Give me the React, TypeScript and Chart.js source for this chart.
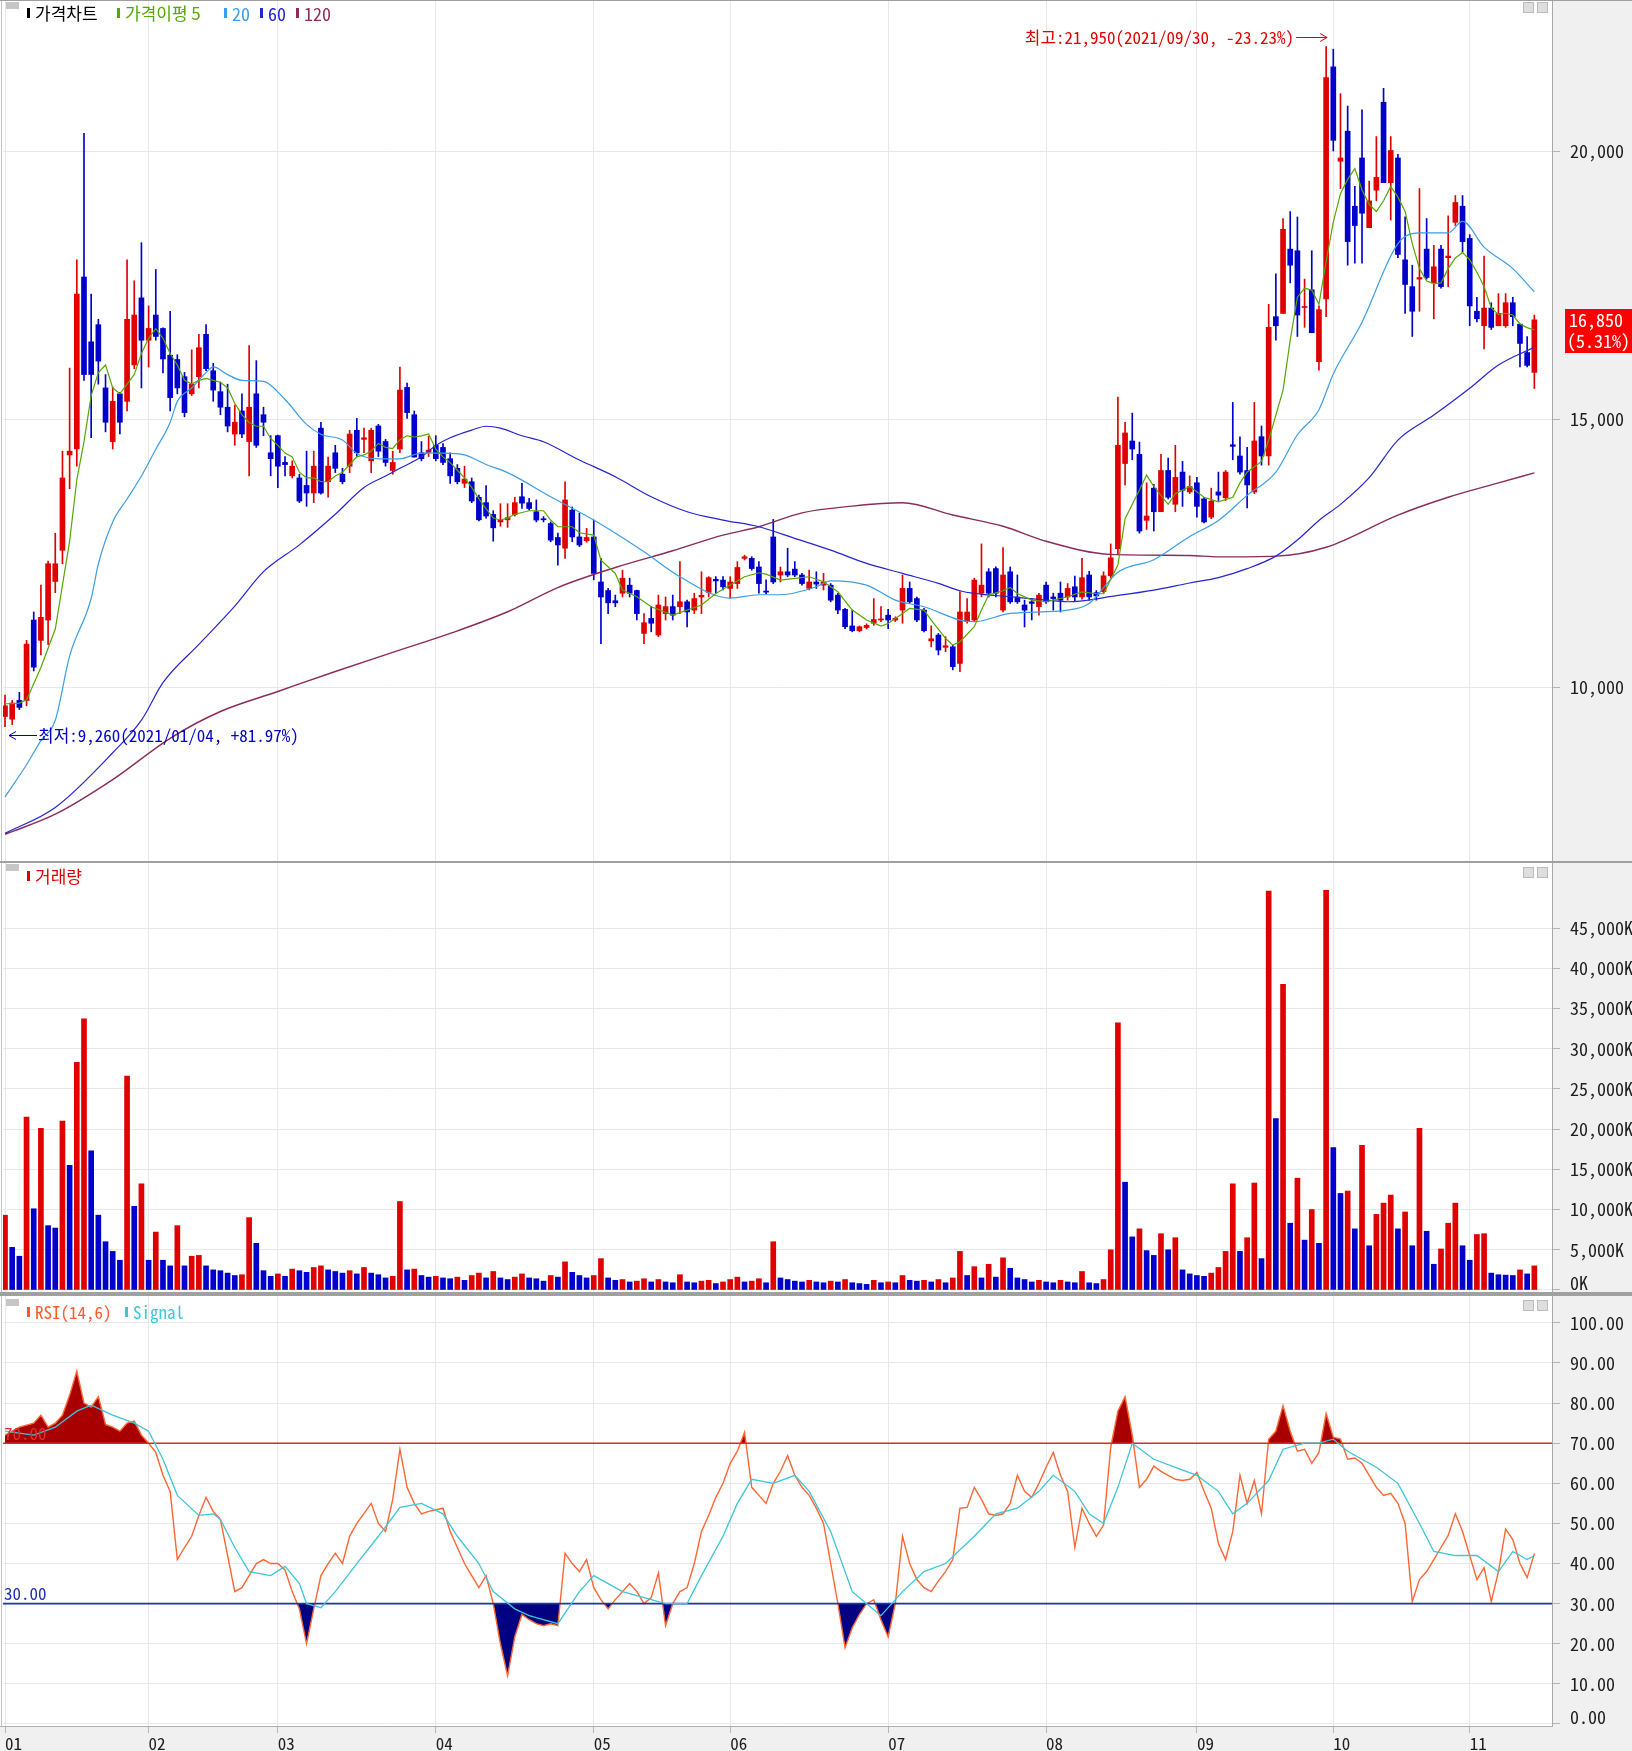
import React, { useEffect, useRef } from 'react';
import { Chart, registerables } from 'chart.js';

Chart.register(...registerables);

// ---------------- data ----------------
const monthStarts = [0, 20, 38, 60, 82, 101, 123, 145, 166, 185, 204];
const monthLabels = ['01', '02', '03', '04', '05', '06', '07', '08', '09', '10', '11'];

const opens = [
  9450, 9400, 9750, 9750, 11250, 10870, 11250, 11970, 12550, 14330,
  14440, 17650, 16440, 16760, 15580, 14580, 15470, 15330, 16010, 17260,
  16470, 16940, 16690, 16190, 16110, 15790, 15470, 15790, 16580, 15900,
  15510, 15220, 14720, 15150, 14580, 15470, 15080, 14370, 14690, 14190,
  13940, 13900, 13760, 13620, 14830, 13830, 14370, 13970, 14120, 14790,
  14620, 14220, 14870, 14580, 14040, 14440, 15590, 15080, 14370, 14380,
  14510, 14470, 14260, 14080, 13800, 13830, 13540, 13440, 13220, 13080,
  13120, 13220, 13550, 13440, 13270, 13140, 13050, 12790, 12590, 13300,
  12800, 12730, 12800, 11960, 11800, 11610, 11750, 11900, 11800, 11000,
  11280, 10970, 11370, 11500, 11500, 11590, 11435, 11680, 11765, 12010,
  11995, 11840, 11930, 12400, 12400, 12240, 11790, 12800, 12090, 12150,
  12200, 12090, 11840, 11960, 11900, 11900, 11715, 11450, 11140, 11050,
  11110, 11190, 11250, 11340, 11250, 11435, 11840, 11650, 11435, 10860,
  10970, 10740, 10750, 10440, 11220, 11250, 11750, 12150, 12210, 11435,
  12150, 11680, 11530, 11590, 11500, 11900, 11680, 11750, 11680, 11870,
  11680, 12090, 11760, 11780, 12075, 12580, 14170, 14590, 14340, 13110,
  13710, 13270, 14040, 13410, 14010, 13640, 13810, 13510, 13170, 13640,
  13530, 14520, 14310, 14040, 13640, 14670, 14310, 16910, 16970, 18170,
  18140, 17080, 17410, 16070, 17240, 21570, 19810, 20370, 18970, 19870,
  18570, 19270, 20910, 19410, 19870, 17970, 17470, 17610, 18170, 17540,
  18170, 18010, 18670, 18970, 18370, 17010, 16740, 17070, 16740, 16740,
  17170, 16770, 16240, 15870,
];
const highs = [
  9850, 9750, 9900, 10870, 11400, 11900, 12350, 12870, 14400, 15950,
  17970, 20330, 17330, 16860, 15830, 15600, 15500, 17970, 17580, 18290,
  17110, 17790, 16700, 17010, 16200, 15870, 16290, 16580, 16760, 16040,
  15690, 15650, 15260, 15470, 16370, 16090, 15220, 14690, 14700, 14300,
  14220, 13970, 14400, 14400, 14940, 14290, 14510, 14080, 14790, 15010,
  14830, 14830, 14900, 14620, 14400, 15970, 15670, 15150, 14580, 14680,
  14690, 14540, 14370, 14150, 14120, 13900, 13580, 13760, 13290, 13420,
  13420, 13540, 13800, 13520, 13490, 13180, 13080, 12870, 13830, 13360,
  13240, 12960, 13115, 12400, 11840, 11715, 12180, 12030, 11810, 11370,
  11500, 11715, 11680, 11715, 12340, 11620, 11750, 12150, 12060, 12060,
  12060, 12060, 12340, 12460, 12430, 12340, 12000, 13127, 12240, 12590,
  12340, 12120, 12180, 12150, 12120, 11930, 11750, 11470, 11435, 11140,
  11180, 11650, 11500, 11450, 11310, 12090, 11960, 11680, 11470, 11140,
  11000, 10940, 10780, 11780, 11650, 12030, 12670, 12210, 12240, 12600,
  12240, 12090, 11620, 11650, 11750, 11960, 11750, 11960, 11930, 12070,
  12400, 12160, 11800, 12150, 12670, 15410, 14940, 15110, 14570, 13810,
  13780, 14340, 14270, 14510, 14210, 13940, 13910, 13540, 13710, 14010,
  14040, 15310, 14670, 14470, 15310, 14870, 17140, 17710, 18740, 18870,
  18770, 17610, 18140, 17110, 21950, 21900, 21070, 20840, 19340, 20770,
  19440, 20270, 21170, 20270, 19940, 18770, 17870, 19300, 18740, 18240,
  18240, 18790, 19170, 19170, 18440, 17270, 18040, 17170, 17340, 17340,
  17270, 16770, 16540, 16940,
];
const lows = [
  9260, 9300, 9580, 9650, 10300, 10600, 10790, 11760, 12300, 13700,
  14120, 15720, 14650, 15650, 14760, 14440, 14720, 15150, 15940, 15580,
  15970, 16470, 15860, 15150, 15470, 15040, 15440, 15580, 15900, 15330,
  15080, 14760, 14510, 14650, 13940, 14470, 14690, 13940, 13720, 13940,
  13900, 13440, 13370, 13440, 13600, 13540, 14000, 13790, 14000, 14300,
  14370, 14000, 14300, 14120, 13970, 14370, 15010, 14290, 14220, 14300,
  14220, 14150, 13800, 13790, 13720, 13440, 13100, 13150, 12720, 13000,
  12980, 13190, 13330, 13300, 13080, 13080, 12710, 12275, 12400, 12710,
  12620, 12700, 12000, 10810, 11370, 11500, 11680, 11680, 11250, 10810,
  11030, 10940, 11250, 11250, 11370, 11120, 11370, 11370, 11680, 11750,
  11810, 11650, 11840, 12370, 12180, 11750, 11740, 11930, 11960, 12060,
  12060, 11900, 11810, 11840, 11810, 11590, 11370, 11090, 11030, 11030,
  11080, 11150, 11220, 11090, 11220, 11190, 11560, 11220, 11030, 10750,
  10600, 10660, 10320, 10285, 11190, 11220, 11680, 11680, 11680, 11400,
  11560, 11560, 11120, 11250, 11340, 11560, 11435, 11400, 11620, 11600,
  11640, 11620, 11620, 11750, 12040, 12480, 13770, 14240, 12870, 12940,
  12910, 13270, 13510, 13270, 13370, 13610, 13170, 13060, 13140, 13480,
  13480, 14240, 13970, 13340, 13610, 14140, 14140, 16470, 16970, 17540,
  16540, 16710, 16610, 15910, 16910, 20000, 19300, 17870, 17910, 17910,
  18570, 19070, 19410, 18710, 18010, 16970, 16540, 17010, 17610, 16870,
  17440, 17470, 18610, 18110, 16740, 16810, 16310, 16670, 16740, 16710,
  16740, 15970, 15970, 15570,
];
const closes = [
  9650, 9700, 9620, 10800, 10370, 11300, 12300, 12300, 13900, 14400,
  17330, 15830, 15830, 16080, 14940, 15330, 14940, 16860, 16940, 16470,
  16690, 16540, 16120, 15400, 15580, 15120, 15650, 16330, 15940, 15540,
  15220, 14870, 14940, 14720, 15220, 14510, 14940, 14260, 14120, 14150,
  14120, 13470, 13620, 14120, 13620, 14120, 14080, 13830, 14720, 14370,
  14650, 14790, 14400, 14190, 14190, 15540, 15120, 14290, 14260, 14420,
  14260, 14190, 13940, 13830, 13880, 13470, 13120, 13190, 12970, 13120,
  13160, 13440, 13430, 13330, 13115, 13120, 12740, 12650, 13490, 12800,
  12650, 12790, 12120, 11680, 11570, 11570, 12030, 11750, 11370, 11200,
  11190, 11530, 11500, 11340, 11590, 11400, 11650, 11710, 12040, 11980,
  11870, 11960, 12230, 12430, 12210, 11930, 11770, 11960, 12150, 12090,
  12090, 11930, 11960, 11920, 11960, 11620, 11435, 11125, 11050, 11125,
  11150, 11260, 11270, 11250, 11280, 11840, 11590, 11250, 11050, 10900,
  10690, 10770, 10380, 11400, 11400, 11995, 11900, 11750, 11750, 12090,
  11590, 11590, 11435, 11560, 11715, 11590, 11650, 11620, 11840, 11680,
  12040, 11680, 11700, 12075, 12410, 14510, 14740, 14440, 12910, 13190,
  13270, 14040, 13540, 13910, 13670, 13740, 13370, 13080, 13470, 13580,
  14010, 14490, 14010, 13770, 14590, 14310, 16710, 16740, 18540, 17870,
  16940, 17100, 16610, 17040, 21370, 20200, 19870, 18310, 18610, 18840,
  19070, 19510, 19410, 20010, 18070, 17510, 17010, 17640, 17640, 17840,
  17470, 18040, 19040, 18310, 17110, 16870, 17070, 16710, 16970, 17170,
  16910, 16410, 16000, 16850,
];
// volume, thousands of shares
const volumes = [
  9300, 5300, 4200, 21500, 10100, 20100, 8000, 7700, 21000, 15500,
  28300, 33700, 17300, 9300, 6000, 4800, 3700, 26600, 10400, 13200,
  3700, 7200, 3700, 3000, 8000, 3000, 4200, 4300, 3000, 2500,
  2400, 2100, 1800, 1900, 9000, 5800, 2400, 1700, 2000, 1700,
  2600, 2400, 2200, 2800, 3000, 2500, 2300, 2100, 2400, 2000,
  2800, 2100, 1900, 1500, 1700, 11000, 2500, 2600, 1800, 1600,
  1700, 1500, 1400, 1600, 1200, 1800, 2100, 1500, 2300, 1500,
  1300, 1600, 2000, 1500, 1400, 1100, 1800, 1600, 3500, 2200,
  1800, 1500, 1800, 3900, 1500, 1200, 1300, 1000, 1100, 1400,
  1000, 1300, 1000, 900, 1900, 1000, 900, 1100, 1200, 800,
  1000, 1300, 1600, 1000, 1100, 1400, 900, 6000, 1500, 1300,
  1100, 1000, 1200, 1000, 900, 1100, 1000, 1300, 900, 800,
  700, 1200, 900, 1000, 900, 1800, 1200, 1100, 1200, 1000,
  1300, 900, 1500, 4800, 1800, 2900, 1500, 3200, 1600, 4000,
  2700, 1500, 1300, 1000, 1200, 1000, 900, 1200, 1000, 900,
  2300, 900, 800, 1300, 5000, 33200, 13400, 6600, 7600, 4900,
  4300, 7000, 5000, 6500, 2500, 2000, 1800, 1700, 2100, 2800,
  4800, 13200, 4800, 6500, 13300, 3900, 49600, 21300, 38000, 8300,
  13900, 6200, 10000, 5800, 49700, 17700, 12000, 12300, 7600, 18000,
  5500, 9400, 10800, 11800, 7600, 9700, 5500, 20100, 7300, 3200,
  5100, 8300, 10800, 5500, 3700, 6900, 7000, 2100, 1900, 1850,
  1800, 2500, 2000, 3000,
];

// moving averages: [trading-day index, value]
const ma5 = [
  [0, 9688], [1, 9690], [2, 9700], [3, 9760], [5, 10366], [7, 11081], [9, 12723], [10, 13866], [11, 14580], [12, 15437],
  [13, 15865], [14, 16008], [15, 15579], [16, 15472], [17, 15651], [18, 15829], [19, 16222], [20, 16507], [21, 16686], [22, 16507],
  [23, 16222], [24, 16008], [25, 15722], [26, 15651], [27, 15722], [28, 15757], [29, 15722], [30, 15686], [31, 15579], [32, 15294],
  [33, 15079], [34, 14936], [35, 14865], [36, 14865], [37, 14637], [38, 14508], [39, 14365], [40, 14294], [41, 14008], [42, 13901],
  [43, 13901], [44, 13830], [45, 13830], [46, 13937], [47, 14008], [48, 14151], [49, 14294], [50, 14330], [51, 14401], [52, 14544],
  [53, 14472], [54, 14450], [55, 14615], [56, 14687], [57, 14665], [58, 14687], [59, 14722], [60, 14437], [61, 14294], [62, 14187],
  [63, 14044], [64, 13901], [65, 13723], [66, 13509], [67, 13330], [68, 13152], [69, 13116], [70, 13152], [71, 13223], [73, 13289],
  [75, 13289], [76, 13115], [77, 12990], [79, 12990], [80, 12878], [82, 12835], [83, 12368], [85, 12119], [86, 11809], [88, 11684],
  [90, 11498], [93, 11342], [95, 11435], [97, 11529], [99, 11746], [101, 11902], [103, 12057], [105, 12132], [106, 12107], [108, 11995],
  [110, 12026], [112, 12057], [114, 11964], [116, 11777], [118, 11435], [120, 11249], [122, 11137], [123, 11186], [125, 11373], [126, 11467],
  [128, 11435], [129, 11249], [131, 10907], [132, 10782], [133, 10844], [135, 11124], [136, 11435], [137, 11715], [139, 11796], [140, 11858],
  [141, 11746], [143, 11622], [145, 11591], [148, 11684], [150, 11775], [152, 11740], [153, 11740], [155, 12275], [156, 13142], [158, 13674],
  [159, 13954], [160, 13741], [162, 13408], [163, 13608], [165, 13741], [167, 13541], [169, 13455], [171, 13541], [172, 13808], [173, 14008],
  [175, 14208], [176, 14607], [178, 15540], [179, 16473], [180, 17273], [181, 17439], [182, 17406], [183, 17140], [184, 17939], [185, 18672],
  [186, 19205], [187, 19472], [188, 19672], [189, 19272], [190, 19005], [191, 18872], [192, 19072], [193, 19339], [194, 19139], [195, 18872],
  [196, 18272], [197, 17806], [198, 17573], [199, 17526], [200, 17540], [201, 17806], [202, 18006], [203, 18106], [204, 17973], [205, 17739],
  [206, 17473], [207, 17073], [208, 16953], [209, 16973], [210, 16940], [211, 16773], [212, 16706], [213, 16660],
];
const ma20 = [
  [0, 7950], [3, 8550], [5, 9000], [7, 9380], [9, 10580], [12, 11652], [13, 12295], [15, 13080], [17, 13508], [19, 13937],
  [21, 14437], [23, 14937], [24, 15329], [26, 15579], [28, 15865], [29, 15972], [31, 15829], [33, 15722], [36, 15701], [39, 15365],
  [42, 14901], [44, 14715], [47, 14608], [49, 14358], [52, 14258], [55, 14258], [58, 14365], [61, 14365], [64, 14330], [67, 14151],
  [70, 14000], [76, 13550], [82, 13115], [89, 12523], [94, 12057], [101, 11659], [105, 11721], [108, 11721], [113, 11871], [115, 11982],
  [120, 11902], [124, 11622], [128, 11498], [133, 11249], [135, 11218], [140, 11373], [148, 11435], [151, 11560], [155, 12142], [160, 12375],
  [165, 12808], [169, 13108], [173, 13575], [177, 14008], [180, 14707], [183, 15174], [185, 15840], [189, 16807], [194, 18272], [197, 18472],
  [201, 18472], [203, 18686], [206, 18206], [210, 17806], [213, 17373],
];
const ma60 = [
  [0, 7270], [7, 7752], [15, 8773], [19, 9381], [22, 10081], [27, 10795], [32, 11509], [36, 12152], [41, 12652], [46, 13223],
  [50, 13723], [53, 13937], [55, 14080], [58, 14294], [60, 14508], [62, 14651], [65, 14794], [67, 14865], [69, 14830], [72, 14687],
  [75, 14576], [80, 14234], [85, 13923], [90, 13550], [95, 13270], [100, 13115], [105, 12990], [110, 12773], [115, 12555], [120, 12306],
  [125, 12119], [130, 11933], [133, 11796], [135, 11746], [140, 11684], [145, 11622], [148, 11591], [155, 11708], [160, 11808], [165, 11941],
  [169, 12041], [173, 12208], [177, 12442], [180, 12742], [183, 13108], [186, 13408], [190, 13908], [194, 14607], [199, 15074], [204, 15574],
  [208, 16007], [213, 16340],
];
const ma120 = [
  [0, 7252], [7, 7627], [15, 8273], [23, 9043], [30, 9543], [38, 9917], [46, 10290], [54, 10646], [62, 11000], [70, 11404],
  [77, 11856], [85, 12230], [93, 12543], [100, 12834], [105, 12990], [111, 13250], [118, 13375], [125, 13437], [132, 13209], [139, 13000],
  [145, 12720], [154, 12475], [165, 12455], [169, 12428], [177, 12442], [184, 12608], [194, 13208], [201, 13541], [208, 13808], [213, 13995],
];
const rsi = [
  [0, 72], [2, 74], [4, 75], [5, 77], [6, 74], [7, 75], [8, 77], [9, 82], [10, 88], [11, 80],
  [12, 79], [13, 81.6], [14, 74.7], [15, 74], [16, 73], [17, 75], [18, 75.5], [19, 72], [20, 70], [21, 67.7],
  [22, 62], [23, 58], [24, 41], [25, 44], [26, 46.8], [27, 52], [28, 56.5], [29, 53], [30, 51], [32, 33],
  [33, 34], [34, 37], [35, 40], [36, 41], [37, 40], [38, 40], [39, 38.4], [40, 33], [41, 28.7], [42, 20],
  [43, 28.7], [44, 37], [45, 40], [46, 42.6], [47, 40], [48, 46.8], [49, 50], [51, 55], [52, 50], [53, 48],
  [54, 56], [55, 68.5], [56, 59], [57, 55], [58, 52.4], [59, 53], [61, 53.8], [62, 48], [63, 44], [64, 40],
  [65, 37], [66, 34], [67, 37], [68, 30], [69, 20], [70, 12], [71, 21.7], [72, 27.3], [73, 26], [74, 25],
  [75, 24.5], [76, 25], [77, 24.5], [78, 42.6], [79, 40], [80, 38], [81, 41], [82, 34], [83, 31], [84, 28.7],
  [85, 31], [86, 33], [87, 35], [88, 33], [89, 30], [90, 31.5], [91, 37.6], [92, 24.5], [93, 30], [94, 33],
  [95, 34], [96, 40], [97, 48], [98, 52], [99, 56.5], [100, 60], [101, 65], [102, 68], [103, 72.7], [104, 59],
  [105, 57], [106, 55], [107, 60], [108, 63], [109, 66.9], [110, 62], [111, 59], [112, 57], [113, 53.8], [114, 50],
  [115, 40], [116, 30], [117, 19], [118, 24], [119, 27.3], [120, 30], [121, 31], [122, 26], [123, 21.7], [124, 30],
  [125, 46.8], [126, 40], [127, 36], [128, 34], [129, 33], [130, 35.7], [131, 38], [132, 41], [133, 53.8], [134, 54],
  [135, 59], [136, 56], [137, 52.4], [138, 52], [139, 52.4], [140, 55], [141, 62], [142, 58], [143, 56.5], [144, 60],
  [145, 64], [146, 67.7], [147, 62], [148, 58], [149, 44], [150, 53.8], [151, 50], [152, 46.8], [153, 49.6], [154, 69],
  [155, 78], [156, 81.6], [157, 72], [158, 59], [159, 61], [160, 64.3], [161, 63], [162, 62], [163, 61], [164, 60.7],
  [165, 61], [166, 62.7], [167, 58], [168, 53.8], [169, 45], [170, 41], [171, 48], [172, 62], [173, 55], [174, 60.7],
  [175, 52.4], [176, 71], [177, 73], [178, 79.4], [179, 73], [180, 68], [181, 68.5], [182, 65], [183, 67.7], [184, 77.4],
  [185, 71.5], [186, 71], [187, 66], [188, 66.3], [189, 65], [190, 62], [191, 59], [192, 57], [193, 57.5], [194, 55],
  [195, 50], [196, 30.5], [197, 36], [198, 38], [199, 41], [200, 44], [201, 47], [202, 52.4], [203, 48], [204, 42],
  [205, 36], [206, 39], [207, 30.5], [208, 38], [209, 48.6], [210, 46], [211, 40], [212, 36.5], [213, 42.5],
];
const signal = [
  [0, 73], [4, 72], [7, 74], [10, 78], [12, 79.5], [15, 77], [18, 75], [20, 73], [22, 66], [24, 57],
  [27, 52], [29, 52.4], [30, 51], [32, 44], [34, 38], [37, 37], [39, 39.3], [41, 35], [42, 30], [44, 29],
  [46, 33], [49, 40], [52, 46.8], [55, 54], [58, 55], [61, 52.4], [63, 46.8], [66, 40], [68, 33], [71, 28.7],
  [73, 27], [77, 25], [80, 33], [82, 37], [86, 33], [89, 31.5], [92, 30], [95, 30], [97, 37], [100, 46.8],
  [102, 55], [104, 61], [107, 60], [110, 62], [112, 58], [115, 48], [118, 33], [120, 30], [122, 27], [125, 33],
  [128, 38], [131, 40], [135, 46.8], [138, 52.4], [141, 53.8], [144, 58], [146, 62], [149, 58], [151, 52.4], [153, 50],
  [155, 59], [157, 70], [160, 66], [163, 64], [166, 62], [169, 58], [171, 52.4], [173, 55], [176, 60.7], [178, 68.5],
  [181, 70], [183, 70], [185, 71], [187, 68], [191, 64], [194, 60], [197, 50], [199, 43], [202, 42], [205, 42],
  [208, 38], [210, 43], [212, 41], [213, 42],
];
const priceTicks = [10000, 15000, 20000];
const volumeTicks = [0, 5000, 10000, 15000, 20000, 25000, 30000, 35000, 40000, 45000];
const rsiTicks = [0, 10, 20, 30, 40, 50, 60, 70, 80, 90, 100];
const highDate = '2021/09/30';
const lowDate = '2021/01/04';

// ---------------- style ----------------
const W = 1632;
const X_MIN = -0.28;
const X_MAX = 215.46;
const UP = '#e00000';
const DOWN = '#0000cc';
const C_MA5 = '#55a800';
const C_MA20 = '#3a9ee8';
const C_MA60 = '#2424d6';
const C_MA120 = '#8a2c5c';
const C_RSI = '#ff6633';
const C_SIG = '#3cc6d6';
const GRID = '#e8e8e8';
const MONO = '"Noto Sans Mono CJK KR", "Noto Sans CJK KR", "DejaVu Sans Mono", monospace';
const KR = '"Noto Sans CJK KR", "Noto Sans", sans-serif';

const fmtNum = (v: number) => Math.round(v).toLocaleString('en-US');
const pts = (arr: number[][]) => arr.map(([x, y]) => ({ x, y }));

function xAxis(show: boolean): any {
  return {
    type: 'linear',
    min: X_MIN,
    max: X_MAX,
    offset: false,
    afterBuildTicks: (s: any) => {
      s.ticks = monthStarts.map((v) => ({ value: v }));
    },
    afterFit: (s: any) => {
      s.height = show ? 25 : 0;
      s.paddingLeft = 0;
      s.paddingRight = 0;
      s.paddingTop = 0;
      s.paddingBottom = 0;
    },
    grid: { color: GRID, lineWidth: 1, offset: false, drawTicks: show, tickLength: 7, tickColor: '#b4b4b4' },
    border: { display: false },
    ticks: {
      display: show,
      autoSkip: false,
      maxRotation: 0,
      minRotation: 0,
      align: 'start',
      padding: 0,
      color: '#202020',
      font: { family: MONO, size: 17 },
      callback: (v: any) => {
        const k = monthStarts.indexOf(Number(v));
        return k >= 0 ? monthLabels[k] : '';
      },
    },
  };
}

function yAxis(min: number, max: number, ticks: number[], fmt: (v: number) => any): any {
  return {
    type: 'linear',
    position: 'right',
    min,
    max,
    afterBuildTicks: (s: any) => {
      s.ticks = ticks.map((v) => ({ value: v }));
    },
    afterFit: (s: any) => {
      s.width = 80;
      s.paddingTop = 0;
      s.paddingBottom = 0;
      s.paddingLeft = 0;
      s.paddingRight = 0;
    },
    grid: { color: GRID, lineWidth: 1, drawTicks: true, tickLength: 8, tickColor: '#b4b4b4' },
    border: { display: false },
    ticks: {
      autoSkip: false,
      padding: 10,
      color: '#1e1e1e',
      font: { family: MONO, size: 18, lineHeight: 0.75 },
      callback: (v: any) => fmt(Number(v)),
    },
  };
}

function baseOptions(padding: any, scales: any): any {
  return {
    responsive: false,
    maintainAspectRatio: false,
    animation: false,
    devicePixelRatio: 1,
    events: [],
    layout: { padding },
    plugins: { legend: { display: false }, tooltip: { enabled: false } },
    scales,
  };
}

function paintPanel(chart: any) {
  const { ctx, chartArea: a } = chart;
  ctx.save();
  ctx.fillStyle = '#ffffff';
  ctx.fillRect(0, a.top, a.right, a.bottom - a.top);
  ctx.restore();
}

function frame(chart: any, topRows: number, bottomRows: number) {
  const { ctx, chartArea: a, height } = chart;
  ctx.save();
  ctx.fillStyle = '#a8a8a8';
  ctx.fillRect(a.right, a.top, 1, a.bottom - a.top);
  ctx.fillStyle = '#c4c4c4';
  ctx.fillRect(1, a.top, 1, a.bottom - a.top);
  ctx.fillStyle = '#a0a0a0';
  if (topRows > 0) ctx.fillRect(0, 0, W, topRows);
  if (bottomRows > 0) ctx.fillRect(0, height - bottomRows, W, bottomRows);
  ctx.restore();
}

function icons(ctx: any, yLeft: number, yRight: number) {
  ctx.save();
  ctx.fillStyle = '#c6c6c6';
  ctx.fillRect(6, yLeft, 13, 7);
  for (const x0 of [1523, 1537]) {
    ctx.fillStyle = '#dedede';
    ctx.fillRect(x0, yRight, 11, 11);
    ctx.strokeStyle = '#bcbcbc';
    ctx.lineWidth = 1;
    ctx.strokeRect(x0 + 0.5, yRight + 0.5, 10, 10);
  }
  ctx.restore();
}

function legend(ctx: any, y: number, items: any[], font: string) {
  ctx.save();
  ctx.textBaseline = 'middle';
  ctx.textAlign = 'left';
  for (const it of items) {
    ctx.fillStyle = it.color;
    ctx.fillRect(it.x, y - 5, 3, 10);
    ctx.font = it.font || font;
    ctx.fillText(it.text, it.x + 8, y + 1);
  }
  ctx.restore();
}

export default function App() {
  const refA = useRef<HTMLCanvasElement>(null);
  const refB = useRef<HTMLCanvasElement>(null);
  const refC = useRef<HTMLCanvasElement>(null);

  useEffect(() => {
    const charts: any[] = [];
    const n = closes.length;
    const idx = closes.map((_, i) => i);
    const candleColor = (c: any) => (closes[c.dataIndex] >= opens[c.dataIndex] ? UP : DOWN);

    const hi = Math.max(...highs);
    const hiIdx = highs.indexOf(hi);
    const lo = Math.min(...lows);
    const loIdx = lows.indexOf(lo);
    const last = closes[n - 1];
    const prev = closes[n - 2];

    // ---------- price panel ----------
    const pricePlugin = {
      id: 'priceDeco',
      beforeDraw: (chart: any) => paintPanel(chart),
      afterDraw: (chart: any) => {
        const { ctx, scales } = chart;
        const x = scales.x;
        const y = scales.y;
        frame(chart, 1, 1);
        icons(ctx, 2, 2);
        legend(
          ctx,
          13,
          [
            { x: 27, color: '#000000', text: '가격차트', font: `17px ${KR}` },
            { x: 117, color: C_MA5, text: '가격이평 5', font: `17px ${KR}` },
            { x: 224, color: C_MA20, text: '20' },
            { x: 260, color: C_MA60, text: '60' },
            { x: 296, color: C_MA120, text: '120' },
          ],
          `18px ${MONO}`
        );
        ctx.save();
        ctx.font = `17px ${MONO}`;
        ctx.textBaseline = 'middle';
        ctx.lineWidth = 1;
        // highest
        const hx = x.getPixelForValue(hiIdx) + 1;
        const hy = Math.round(y.getPixelForValue(hi) - 10) + 0.5;
        const hiText = `최고:${fmtNum(hi)}(${highDate}, ${((last / hi - 1) * 100).toFixed(2)}%)`;
        ctx.fillStyle = UP;
        ctx.strokeStyle = UP;
        ctx.textAlign = 'right';
        ctx.fillText(hiText, hx - 33, hy);
        ctx.beginPath();
        ctx.moveTo(hx - 31, hy);
        ctx.lineTo(hx, hy);
        ctx.moveTo(hx - 7, hy - 4);
        ctx.lineTo(hx, hy);
        ctx.lineTo(hx - 7, hy + 4);
        ctx.stroke();
        // lowest
        const lx = x.getPixelForValue(loIdx) + 4;
        const ly = Math.round(y.getPixelForValue(lo) + 8) + 0.5;
        const loText = `최저:${fmtNum(lo)}(${lowDate}, +${((last / lo - 1) * 100).toFixed(2)}%)`;
        ctx.fillStyle = '#0000c8';
        ctx.strokeStyle = '#0000c8';
        ctx.textAlign = 'left';
        ctx.beginPath();
        ctx.moveTo(lx, ly);
        ctx.lineTo(lx + 28, ly);
        ctx.moveTo(lx + 7, ly - 4);
        ctx.lineTo(lx, ly);
        ctx.lineTo(lx + 7, ly + 4);
        ctx.stroke();
        ctx.fillText(loText, lx + 29, ly);
        // current price box
        const py = y.getPixelForValue(last);
        ctx.fillStyle = '#ff0000';
        ctx.fillRect(1565, Math.round(py) - 11, 67, 44);
        ctx.fillStyle = '#ffffff';
        ctx.font = `18px ${MONO}`;
        ctx.fillText(fmtNum(last), 1569, py);
        ctx.fillText(`(${((last / prev - 1) * 100).toFixed(2)}%)`, 1567, py + 21);
        ctx.restore();
      },
    };

    charts.push(
      new Chart(refA.current as HTMLCanvasElement, {
        type: 'bar',
        data: {
          datasets: [
            {
              type: 'line',
              data: pts(ma5),
              borderColor: C_MA5,
              borderWidth: 1.2,
              pointRadius: 0,
              tension: 0,
              order: 1,
            } as any,
            {
              type: 'line',
              data: pts(ma20),
              borderColor: C_MA20,
              borderWidth: 1.2,
              pointRadius: 0,
              cubicInterpolationMode: 'monotone',
              order: 1.1,
            } as any,
            {
              type: 'line',
              data: pts(ma60),
              borderColor: C_MA60,
              borderWidth: 1.2,
              pointRadius: 0,
              cubicInterpolationMode: 'monotone',
              order: 1.2,
            } as any,
            {
              type: 'line',
              data: pts(ma120),
              borderColor: C_MA120,
              borderWidth: 1.4,
              pointRadius: 0,
              cubicInterpolationMode: 'monotone',
              order: 1.3,
            } as any,
            {
              type: 'bar',
              data: idx.map((i) => ({ x: i, y: [opens[i], closes[i]] })),
              backgroundColor: candleColor,
              borderWidth: 0,
              barThickness: 5,
              minBarLength: 1,
              grouped: false,
              order: 2,
            } as any,
            {
              type: 'bar',
              data: idx.map((i) => ({ x: i, y: [lows[i], highs[i]] })),
              backgroundColor: candleColor,
              borderWidth: 0,
              barThickness: 1,
              grouped: false,
              order: 3,
            } as any,
          ],
        },
        options: baseOptions(
          { left: 3, right: 0, top: 1, bottom: 1 },
          {
            x: xAxis(false),
            y: yAxis(6754, 22799, priceTicks, (v) => fmtNum(v)),
          }
        ),
        plugins: [pricePlugin],
      })
    );

    // ---------- volume panel ----------
    const volPlugin = {
      id: 'volDeco',
      beforeDraw: (chart: any) => paintPanel(chart),
      afterDraw: (chart: any) => {
        const { ctx } = chart;
        frame(chart, 1, 2);
        icons(ctx, 2, 5);
        legend(ctx, 14, [{ x: 27, color: '#e00000', text: '거래량' }], `17px ${KR}`);
      },
    };
    charts.push(
      new Chart(refB.current as HTMLCanvasElement, {
        type: 'bar',
        data: {
          datasets: [
            {
              data: idx.map((i) => ({ x: i, y: volumes[i] })),
              backgroundColor: (c: any) =>
                c.dataIndex === 0 || volumes[c.dataIndex] > volumes[c.dataIndex - 1] ? UP : DOWN,
              borderWidth: 0,
              barThickness: 5,
              grouped: false,
            } as any,
          ],
        },
        options: baseOptions(
          { left: 3, right: 0, top: 1, bottom: 2 },
          {
            x: xAxis(false),
            y: yAxis(-249, 53083, volumeTicks, (v) => (v === 0 ? ['0K', ''] : `${fmtNum(v)}K`)),
          }
        ),
        plugins: [volPlugin],
      })
    );

    // ---------- RSI panel ----------
    const rsiPlugin = {
      id: 'rsiDeco',
      beforeDraw: (chart: any) => paintPanel(chart),
      afterDatasetsDraw: (chart: any) => {
        const { ctx, scales } = chart;
        const y = scales.y;
        ctx.save();
        ctx.font = `17px ${MONO}`;
        ctx.textBaseline = 'middle';
        ctx.textAlign = 'left';
        ctx.fillStyle = '#e03030';
        ctx.fillText('70.00', 4, y.getPixelForValue(70) - 10);
        ctx.fillStyle = '#1c2cb8';
        ctx.fillText('30.00', 4, y.getPixelForValue(30) - 10);
        ctx.restore();
      },
      afterDraw: (chart: any) => {
        const { ctx, chartArea: a } = chart;
        frame(chart, 2, 0);
        ctx.save();
        ctx.fillStyle = '#b0b0b0';
        ctx.fillRect(0, a.bottom, a.right + 1, 1);
        ctx.restore();
        icons(ctx, 5, 6);
        legend(
          ctx,
          18,
          [
            { x: 27, color: '#ff5a28', text: 'RSI(14,6)' },
            { x: 125, color: C_SIG, text: 'Signal' },
          ],
          `17px ${MONO}`
        );
      },
    };
    charts.push(
      new Chart(refC.current as HTMLCanvasElement, {
        type: 'line',
        data: {
          datasets: [
            {
              data: pts(signal),
              borderColor: C_SIG,
              borderWidth: 1.3,
              pointRadius: 0,
              tension: 0,
              order: 1,
            } as any,
            {
              data: [
                { x: X_MIN, y: 70 },
                { x: X_MAX, y: 70 },
              ],
              borderColor: '#e0281e',
              borderWidth: 1.6,
              pointRadius: 0,
              order: 2,
            } as any,
            {
              data: [
                { x: X_MIN, y: 30 },
                { x: X_MAX, y: 30 },
              ],
              borderColor: '#1e32b4',
              borderWidth: 1.6,
              pointRadius: 0,
              order: 2,
            } as any,
            {
              data: pts(rsi),
              borderColor: C_RSI,
              borderWidth: 1.4,
              pointRadius: 0,
              tension: 0,
              fill: { target: { value: 70 }, above: '#a80000', below: 'rgba(0,0,0,0)' },
              order: 3,
            } as any,
            {
              data: pts(rsi),
              borderColor: 'rgba(0,0,0,0)',
              borderWidth: 0,
              pointRadius: 0,
              tension: 0,
              fill: { target: { value: 30 }, above: 'rgba(0,0,0,0)', below: '#000080' },
              order: 4,
            } as any,
          ],
        },
        options: baseOptions(
          { left: 3, right: 0, top: 2, bottom: 0 },
          {
            x: xAxis(true),
            y: yAxis(-0.5, 106.7, rsiTicks, (v) => (v === 0 ? ['0.00', ''] : v.toFixed(2))),
          }
        ),
        plugins: [rsiPlugin],
      })
    );

    return () => {
      charts.forEach((c) => c.destroy());
    };
  }, []);

  return (
    <div
      style={{
        position: 'absolute',
        left: 0,
        top: 0,
        width: W,
        height: 1751,
        background: '#f0f0f0',
        overflow: 'hidden',
      }}
    >
      <canvas ref={refA} width={W} height={862} style={{ position: 'absolute', left: 0, top: 0 }} />
      <canvas ref={refB} width={W} height={432} style={{ position: 'absolute', left: 0, top: 862 }} />
      <canvas ref={refC} width={W} height={457} style={{ position: 'absolute', left: 0, top: 1294 }} />
    </div>
  );
}
